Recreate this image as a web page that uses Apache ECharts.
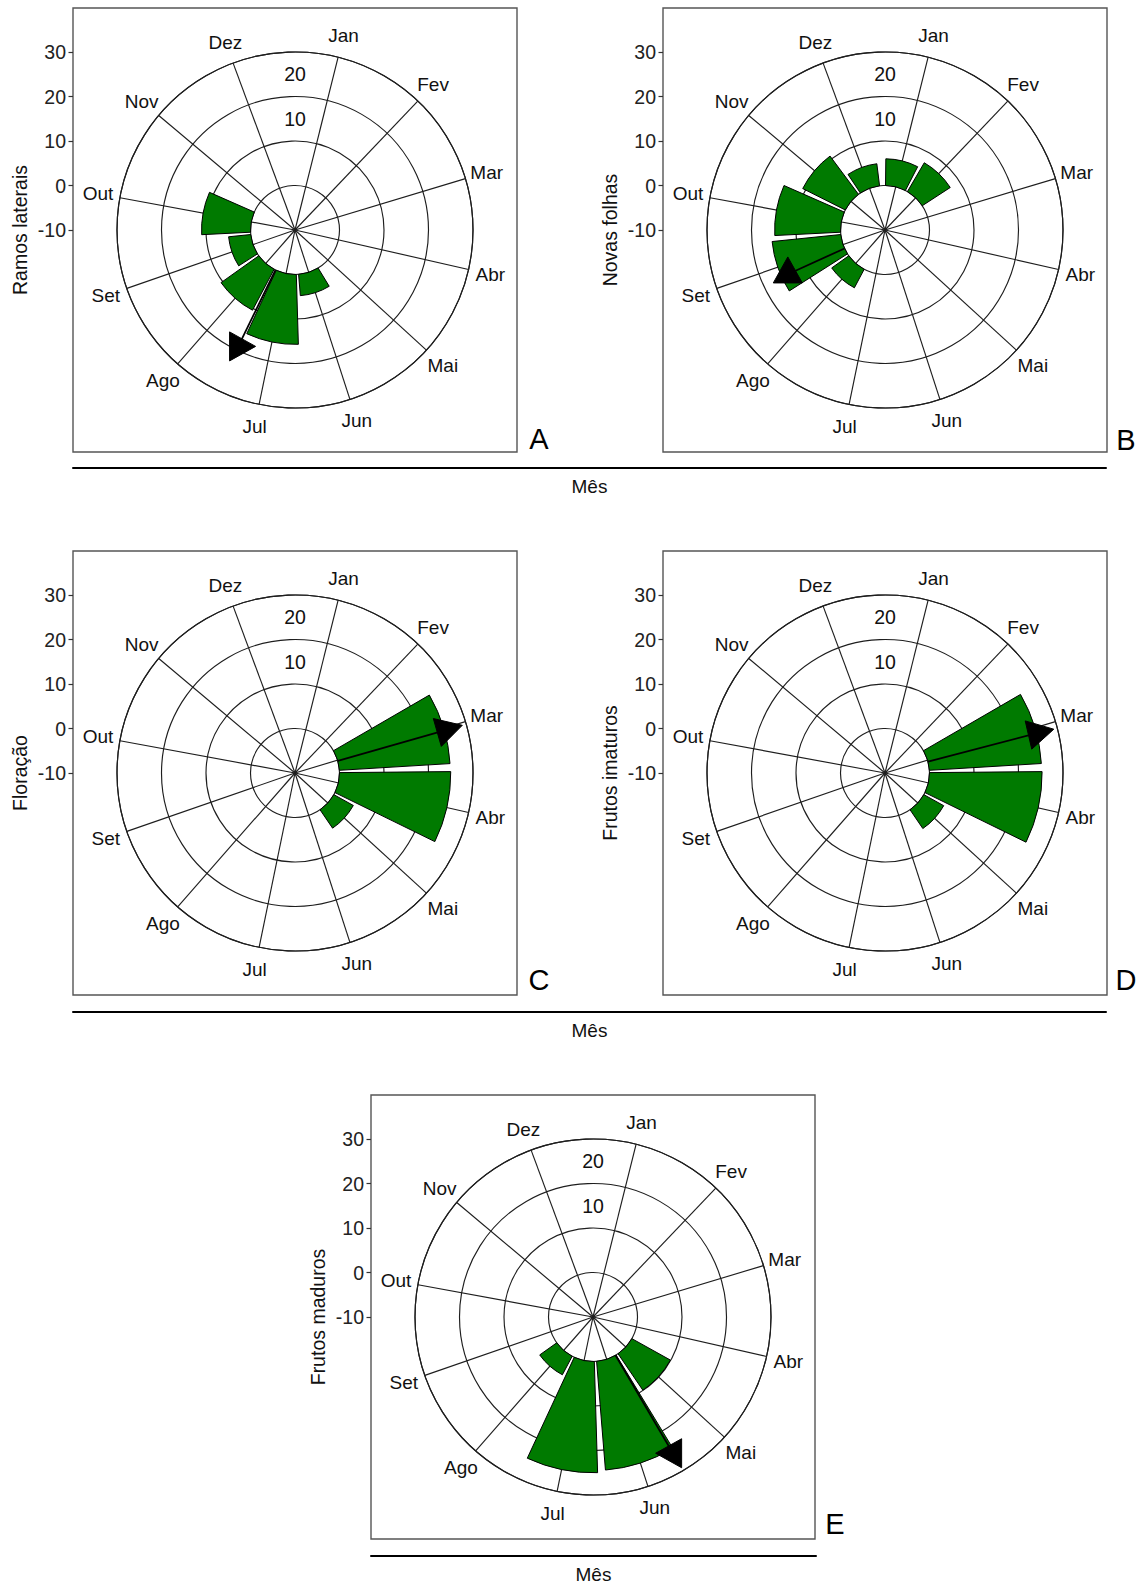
<!DOCTYPE html>
<html>
<head>
<meta charset="utf-8">
<script src="https://cdn.jsdelivr.net/npm/echarts@6/dist/echarts.min.js"></script>
<style>
html,body{margin:0;padding:0;background:#fff;}
#chart{width:1143px;height:1584px;}
</style>
</head>
<body>
<div id="chart"></div>
<script>
// ---------------- DATA ----------------
const months = ['Jan','Fev','Mar','Abr','Mai','Jun','Jul','Ago','Set','Out','Nov','Dez'];
const ramosLaterais  = [0, 0, 0, 0, 0, 4.8, 15.7, 10.4, 5.0, 11.0, 0, 0];
const novasFolhas    = [6.0, 7.5, 0, 0, 0, 0, 0, 4.7, 15.5, 14.8, 10.7, 5.0];
const floracao       = [0, 0, 24.9, 25.0, 5.0, 0, 0, 0, 0, 0, 0, 0];
const frutosImaturos = [0, 0, 25.2, 25.3, 5.1, 0, 0, 0, 0, 0, 0, 0];
const frutosMaduros  = [0, 0, 0, 0, 9.9, 24.5, 25.0, 4.7, 0, 0, 0, 0];
// mean vector (direction in month units, length in axis units)
const meanDirection = [6.485, 7.82, 2.03, 2.07, 4.58];
const meanLength    = [19.1, 14.0, 25.2, 25.3, 25.5];
const ringLabels = [10, 20];
const yTitles = ['Ramos laterais', 'Novas folhas', 'Floração', 'Frutos imaturos', 'Frutos maduros'];
const panelLetters = ['A', 'B', 'C', 'D', 'E'];
const xTitle = 'Mês';

// ---------------- LAYOUT / STYLE ----------------
const FONT = '"Liberation Sans", Arial, Helvetica, sans-serif';
const GREEN = '#007a00';
const GRID_COLOR = '#1e1e1e';
const GRID_WIDTH = 1.15;
const BOX = 444, RPX = 178;
const R_MIN = -10, R_MAX = 30;
const ANGLE_MAX = 12.16, START_ANGLE = 76;
const BAR_HALF = 0.45;
const TOP_ANGLE = ANGLE_MAX - (90 - START_ANGLE) * ANGLE_MAX / 360;
const boxes = [[73, 8], [663, 8], [73, 551], [663, 551], [371, 1095]];
const letterPos = [[539, 439], [1126, 440], [539, 980], [1126, 980], [835, 1524]];
const headRotation = [90, 0, 74, 77, 270];
const HEAD_W = 29, HEAD_H = 26;
const rows = [[73, 1106, 468], [73, 1106, 1012], [371, 816, 1556]];

const seriesValues = [ramosLaterais, novasFolhas, floracao, frutosImaturos, frutosMaduros];

function spokesRender(params, api) {
  const i = api.value(1);
  const c = api.coord([R_MIN, i]);
  const e = api.coord([api.value(0), i]);
  const l = api.coord([api.value(0) + 5, i]);
  return {type: 'group', children: [
    {type: 'line', shape: {x1: c[0], y1: c[1], x2: e[0], y2: e[1]}, style: {stroke: GRID_COLOR, lineWidth: GRID_WIDTH}},
    {type: 'text', x: l[0], y: l[1], style: {text: months[params.dataIndex], fontSize: 19, fontFamily: FONT, fill: '#111', align: 'center', verticalAlign: 'middle'}}
  ]};
}
function ringLabelRender(params, api) {
  const v = api.value(0);
  const p = api.coord([v + 5, api.value(1)]);
  return {type: 'text', x: p[0], y: p[1], style: {text: String(v), fontSize: 19.5, fontFamily: FONT, fill: '#111', align: 'center', verticalAlign: 'middle'}};
}
function barRender(params, api) {
  const v = api.value(0), m = api.value(1);
  if (!(v > 0)) return null;
  const c = api.coord([R_MIN, m]);
  const pin = api.coord([0, m]);
  const p1 = api.coord([v, m - BAR_HALF]);
  const p2 = api.coord([v, m + BAR_HALF]);
  const r0 = Math.hypot(pin[0] - c[0], pin[1] - c[1]);
  const r = Math.hypot(p1[0] - c[0], p1[1] - c[1]);
  let a1 = Math.atan2(p1[1] - c[1], p1[0] - c[0]);
  let a2 = Math.atan2(p2[1] - c[1], p2[0] - c[0]);
  if (a2 < a1) a2 += 2 * Math.PI;
  return {type: 'sector', shape: {cx: c[0], cy: c[1], r0: r0, r: r, startAngle: a1, endAngle: a2, clockwise: true},
          style: {fill: GREEN, stroke: '#000', lineWidth: 1}};
}
function makeArrowRender(k) {
  return function (params, api) {
    const L = api.value(0), a = api.value(1);
    const s = api.coord([0, a]);
    const e = api.coord([L, a]);
    const th = headRotation[k] * Math.PI / 180;
    const loc = [[0, -2 * HEAD_H / 3], [-HEAD_W / 2, HEAD_H / 3], [HEAD_W / 2, HEAD_H / 3]];
    const pts = loc.map(([x, y]) => [e[0] + x * Math.cos(th) - y * Math.sin(th), e[1] + x * Math.sin(th) + y * Math.cos(th)]);
    return {type: 'group', children: [
      {type: 'line', shape: {x1: s[0], y1: s[1], x2: e[0], y2: e[1]}, style: {stroke: '#000', lineWidth: 1.8}},
      {type: 'polygon', shape: {points: pts}, style: {fill: '#000', stroke: '#000', lineWidth: 1}}
    ]};
  };
}

const grid = [], xAxis = [], yAxis = [], polar = [], angleAxis = [], radiusAxis = [], series = [];
boxes.forEach(([bx, by], k) => {
  const cx = bx + BOX / 2, cy = by + BOX / 2;
  grid.push({left: bx, top: by, width: BOX, height: BOX, show: true, borderColor: '#555', borderWidth: 1.4,
             backgroundColor: 'transparent', containLabel: false, outerBoundsMode: 'none'});
  let gi = grid.length - 1;
  xAxis.push({gridIndex: gi, type: 'value', show: false, min: 0, max: 1});
  yAxis.push({gridIndex: gi, type: 'value', min: 0, max: 1, axisLine: {show: false}, axisTick: {show: false},
              axisLabel: {show: false}, splitLine: {show: false},
              name: yTitles[k], nameLocation: 'middle', nameGap: 43,
              nameTextStyle: {fontSize: 19.5, color: '#111', fontFamily: FONT}});
  grid.push({left: bx, top: cy - RPX, width: BOX, height: RPX, show: false, containLabel: false, outerBoundsMode: 'none'});
  gi = grid.length - 1;
  xAxis.push({gridIndex: gi, type: 'value', show: false, min: 0, max: 1});
  yAxis.push({gridIndex: gi, type: 'value', min: R_MIN, max: R_MAX, interval: 10,
              axisLine: {show: false}, axisTick: {show: true, length: 4.5, lineStyle: {color: '#333', width: 1.2}},
              axisLabel: {fontSize: 19.5, color: '#222', margin: 7, fontFamily: FONT}, splitLine: {show: false}});
  polar.push({center: [cx, cy], radius: RPX});
  angleAxis.push({polarIndex: k, type: 'value', min: 0, max: ANGLE_MAX, startAngle: START_ANGLE, clockwise: true,
                  axisLine: {show: true, lineStyle: {color: GRID_COLOR, width: GRID_WIDTH}}, axisTick: {show: false},
                  axisLabel: {show: false}, splitLine: {show: false}, splitArea: {show: false}});
  radiusAxis.push({polarIndex: k, type: 'value', min: R_MIN, max: R_MAX, interval: 10,
                   axisLine: {show: false}, axisTick: {show: false}, axisLabel: {show: false},
                   splitLine: {show: true, lineStyle: {color: GRID_COLOR, width: GRID_WIDTH}}, splitArea: {show: false}});
  series.push({type: 'custom', coordinateSystem: 'polar', polarIndex: k, clip: false, silent: true, z: 2,
               data: months.map((m, i) => [R_MAX, i]), renderItem: spokesRender});
  series.push({type: 'custom', coordinateSystem: 'polar', polarIndex: k, clip: false, silent: true, z: 2,
               data: ringLabels.map(v => [v, TOP_ANGLE]), renderItem: ringLabelRender});
  series.push({type: 'custom', coordinateSystem: 'polar', polarIndex: k, clip: false, silent: true, z: 3,
               data: seriesValues[k].map((v, i) => [v, i]), renderItem: barRender});
  series.push({type: 'custom', coordinateSystem: 'polar', polarIndex: k, clip: false, silent: true, z: 4,
               data: [[meanLength[k], meanDirection[k]]], renderItem: makeArrowRender(k)});
});
rows.forEach(([l, r, y]) => {
  grid.push({left: l, top: y - 1, width: r - l, height: 1, show: false, containLabel: false, outerBoundsMode: 'none'});
  const gi = grid.length - 1;
  xAxis.push({gridIndex: gi, type: 'value', min: 0, max: 1, position: 'bottom',
              axisLine: {show: true, onZero: false, lineStyle: {color: '#000', width: 2}},
              axisTick: {show: false}, axisLabel: {show: false}, splitLine: {show: false},
              name: xTitle, nameLocation: 'middle', nameGap: 9,
              nameTextStyle: {fontSize: 19, color: '#111', fontFamily: FONT}});
  yAxis.push({gridIndex: gi, type: 'value', show: false, min: 0, max: 1});
});

const chart = echarts.init(document.getElementById('chart'), null, {renderer: 'svg', width: 1143, height: 1584});
chart.setOption({
  animation: false,
  backgroundColor: '#fff',
  textStyle: {fontFamily: FONT},
  grid, xAxis, yAxis, polar, angleAxis, radiusAxis, series,
  graphic: panelLetters.map((t, k) => ({type: 'text', x: letterPos[k][0], y: letterPos[k][1],
    style: {text: t, fontSize: 29, fontFamily: FONT, fill: '#000', align: 'center', verticalAlign: 'middle'}}))
});
</script>
</body>
</html>
